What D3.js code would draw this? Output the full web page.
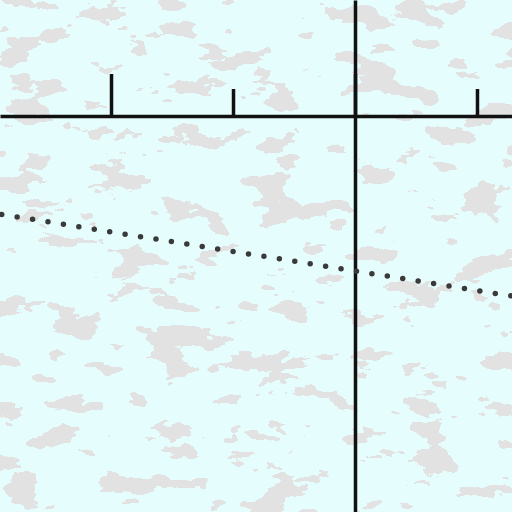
<!DOCTYPE html>
<html>
<head>
<meta charset="utf-8">
<script src="https://cdn.jsdelivr.net/npm/d3@7"></script>
<style>
  body { margin: 0; background: #e6fdfd; }
  svg { display: block; }
</style>
</head>
<body>
<div id="chart"></div>
<script>
// tick values on the horizontal axis
const majorTicks = [0, 2];
const minorTicks = [1, 3];
// position of the vertical axis (in x units)
const yAxisAt = 2;
// dotted series
const lineX = [-1, 3.5];
const lineY = [-0.79, -1.51];

const width = 512, height = 512;

const x = d3.scaleLinear().domain([-0.91, 3.287]).range([0, width]);
const y = d3.scaleLinear().domain([0.951, -3.246]).range([0, height]);

const svg = d3.select("#chart")
    .append("svg")
    .attr("width", width)
    .attr("height", height);

// background with grey blotches
const defs = svg.append("defs");
const filter = defs.append("filter")
    .attr("id", "clouds")
    .attr("filterUnits", "userSpaceOnUse")
    .attr("color-interpolation-filters", "sRGB")
    .attr("x", 0).attr("y", 0)
    .attr("width", width).attr("height", height);
filter.append("feTurbulence")
    .attr("type", "fractalNoise")
    .attr("baseFrequency", "0.02 0.04")
    .attr("numOctaves", 4)
    .attr("seed", 7);
filter.append("feColorMatrix")
    .attr("type", "matrix")
    .attr("values", "0 0 0 0 0.885  0 0 0 0 0.885  0 0 0 0 0.885  1 0 0 0 0");
const ct = filter.append("feComponentTransfer");
ct.append("feFuncA")
    .attr("type", "discrete")
    .attr("tableValues", "0 0 0 0 0 0 0 0 0 0 0 0 0 0 0 1 1 1 1 1 1 1 1 1 1");

svg.append("rect")
    .attr("width", width)
    .attr("height", height)
    .attr("fill", "#e6fdfd");
svg.append("rect")
    .attr("width", width)
    .attr("height", height)
    .attr("fill", "#fff")
    .attr("filter", "url(#clouds)");

// horizontal axis with ticks pointing up
const gx = svg.append("g").attr("transform", `translate(0,${y(0)})`);
gx.append("g")
    .call(d3.axisTop(x).tickValues(majorTicks).tickSize(42).tickSizeOuter(0).tickFormat(""));
gx.append("g")
    .call(d3.axisTop(x).tickValues(minorTicks).tickSize(27).tickSizeOuter(0).tickFormat(""))
    .select(".domain").remove();
gx.selectAll("path, line")
    .attr("stroke", "#111")
    .attr("stroke-width", 3.5);

// vertical axis, line only
const gy = svg.append("g").attr("transform", `translate(${x(yAxisAt)},0)`);
gy.call(d3.axisRight(y).tickValues([]).tickSizeOuter(0));
gy.select(".domain")
    .attr("stroke", "#111")
    .attr("stroke-width", 3.5);

// dotted line
const pts = lineX.map((v, i) => [v, lineY[i]]);
svg.append("path")
    .datum(pts)
    .attr("fill", "none")
    .attr("stroke", "#3a3a3a")
    .attr("stroke-width", 5.5)
    .attr("stroke-linecap", "round")
    .attr("stroke-dasharray", "0 15.62")
    .attr("stroke-dashoffset", 2.76)
    .attr("d", d3.line().x(d => x(d[0])).y(d => y(d[1])));
</script>
</body>
</html>
